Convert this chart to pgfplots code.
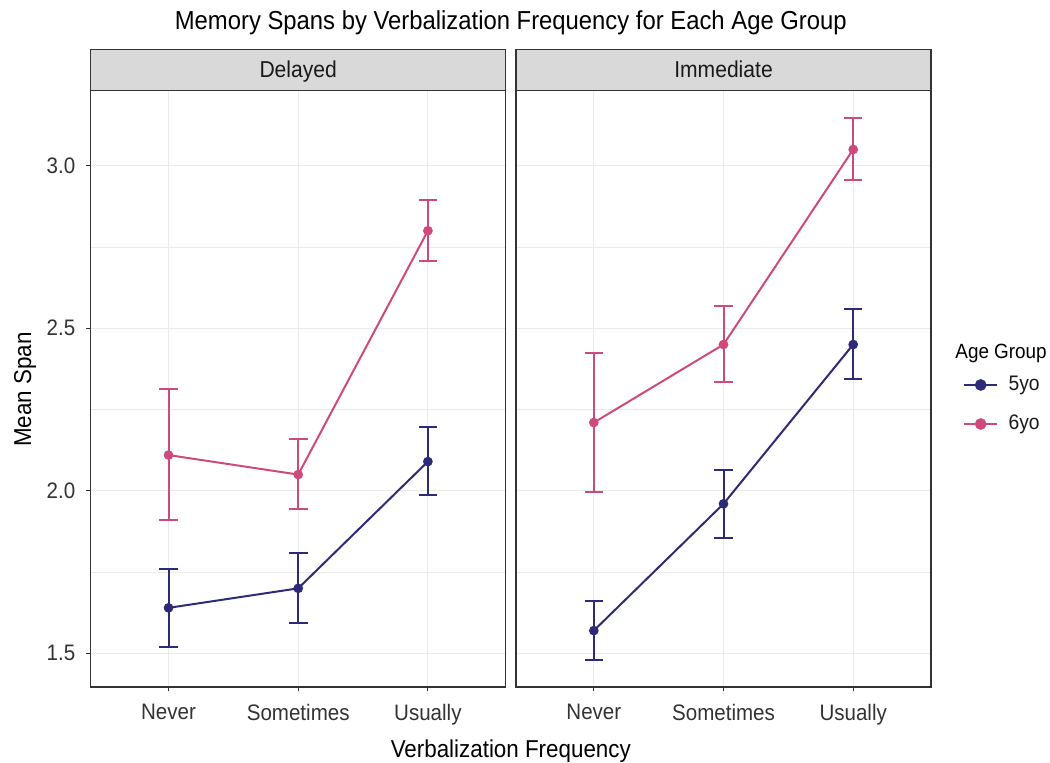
\documentclass[border=0pt]{standalone}
\usepackage{pgfplots}
\pgfplotsset{compat=1.18}
\usepackage{pgfplotstable}
\usepackage{fontspec}
\setmainfont{Liberation Sans}[FakeStretch=0.917]
\definecolor{cfive}{HTML}{2D2A77}
\definecolor{csix}{HTML}{CF4A7C}
\definecolor{gridc}{HTML}{EBEBEB}
\definecolor{stripc}{HTML}{D9D9D9}
\definecolor{borderc}{HTML}{333333}
\definecolor{textc}{HTML}{333333}

% Delayed
\pgfplotstableread{
x y ep em
1 1.64 0.120 0.120
2 1.70 0.109 0.108
3 2.09 0.105 0.104
}\delfive
\pgfplotstableread{
x y ep em
1 2.11 0.204 0.200
2 2.05 0.108 0.106
3 2.80 0.094 0.094
}\delsix
% Immediate
\pgfplotstableread{
x y ep em
1 1.57 0.092 0.091
2 1.96 0.104 0.104
3 2.45 0.108 0.107
}\immfive
\pgfplotstableread{
x y ep em
1 2.21 0.213 0.213
2 2.45 0.118 0.116
3 3.05 0.097 0.094
}\immsix

\pgfplotsset{
 panel/.style={
  scale only axis, width=207.5pt, height=298.25pt,
  xmin=0.4, xmax=3.6, ymin=1.3966, ymax=3.2314,
  xtick={1,2,3}, xticklabels={Never,Sometimes,Usually},
  ytick={1.5,2,2.5,3}, minor ytick={1.75,2.25,2.75},
  grid=both,
  major grid style={draw=gridc, line width=0.55pt},
  minor grid style={draw=gridc, line width=0.3pt},
  axis line style={draw=borderc, line width=0.6pt},
  tick align=outside, tick pos=left,
  major tick length=2.2pt, minor tick length=0pt,
  tick style={draw=borderc, line width=0.55pt},
  ticklabel style={font=\fontsize{11.2}{13}\selectfont, text=textc},
  xticklabel style={yshift=-3pt},
  yticklabel style={xshift=-2pt, /pgf/number format/.cd, fixed, fixed zerofill, precision=1, assume math mode=true},
  clip=false,
  every axis plot/.append style={line width=1pt, mark=*, mark size=1.9pt},
  error bars/error bar style={line width=1pt},
  error bars/error mark options={rotate=90, mark size=4.65pt, line width=1pt},
 }
}

\begin{document}
\begin{tikzpicture}
\path[use as bounding box] (0,0) rectangle (525pt,381.5pt);

\begin{axis}[panel, at={(45.35pt,38pt)}, anchor=south west]
\addplot[cfive, error bars/.cd, y dir=both, y explicit] table[x=x, y=y, y error plus=ep, y error minus=em] {\delfive};
\addplot[csix, error bars/.cd, y dir=both, y explicit] table[x=x, y=y, y error plus=ep, y error minus=em] {\delsix};
\end{axis}

\begin{axis}[panel, at={(258pt,38pt)}, anchor=south west,
  yticklabels={}, ytick style={draw=none},
  legend style={at={(1,0.4736)}, anchor=west, xshift=16.2pt, draw=none, fill=none,
    inner sep=0pt, outer sep=0pt, row sep=9pt, column sep=5.3pt,
    font=\fontsize{10.5}{12}\selectfont,
    nodes={inner sep=0pt, text height=8pt, text depth=2.5pt, text=black!90},
    cells={anchor=west}},
  legend image code/.code={\draw[line width=1pt] (0pt,0pt) -- (16.3pt,0pt); \fill (8.15pt,0pt) circle (2.4pt);}
]
\addplot[cfive, error bars/.cd, y dir=both, y explicit] table[x=x, y=y, y error plus=ep, y error minus=em] {\immfive};
\addlegendentry{5yo}
\addplot[csix, error bars/.cd, y dir=both, y explicit] table[x=x, y=y, y error plus=ep, y error minus=em] {\immsix};
\addlegendentry{6yo}
\end{axis}

% strips
\draw[fill=stripc, draw=borderc, line width=0.6pt] (45.35pt,336.25pt) rectangle (252.85pt,356.75pt);
\node[font=\fontsize{11.5}{13}\selectfont, text=black!90, anchor=base] at (149.1pt,342.5pt) {Delayed};
\draw[fill=stripc, draw=borderc, line width=0.6pt] (258pt,336.25pt) rectangle (465.5pt,356.75pt);
\node[font=\fontsize{11.5}{13}\selectfont, text=black!90, anchor=base] at (361.75pt,342.5pt) {Immediate};

% titles
\node[font=\fontsize{13}{15}\selectfont, anchor=base] at (255.4pt,366.85pt) {Memory Spans by Verbalization Frequency for Each Age Group};
\node[font=\fontsize{12.2}{14}\selectfont, anchor=base] at (255.4pt,2.75pt) {Verbalization Frequency};
\node[font=\fontsize{12.2}{14}\selectfont, rotate=90, anchor=base] at (15.5pt,186.75pt) {Mean Span};
\node[font=\fontsize{10.3}{12}\selectfont, anchor=base west, inner sep=0pt] at (477.5pt,202.35pt) {Age Group};
\end{tikzpicture}
\end{document}
